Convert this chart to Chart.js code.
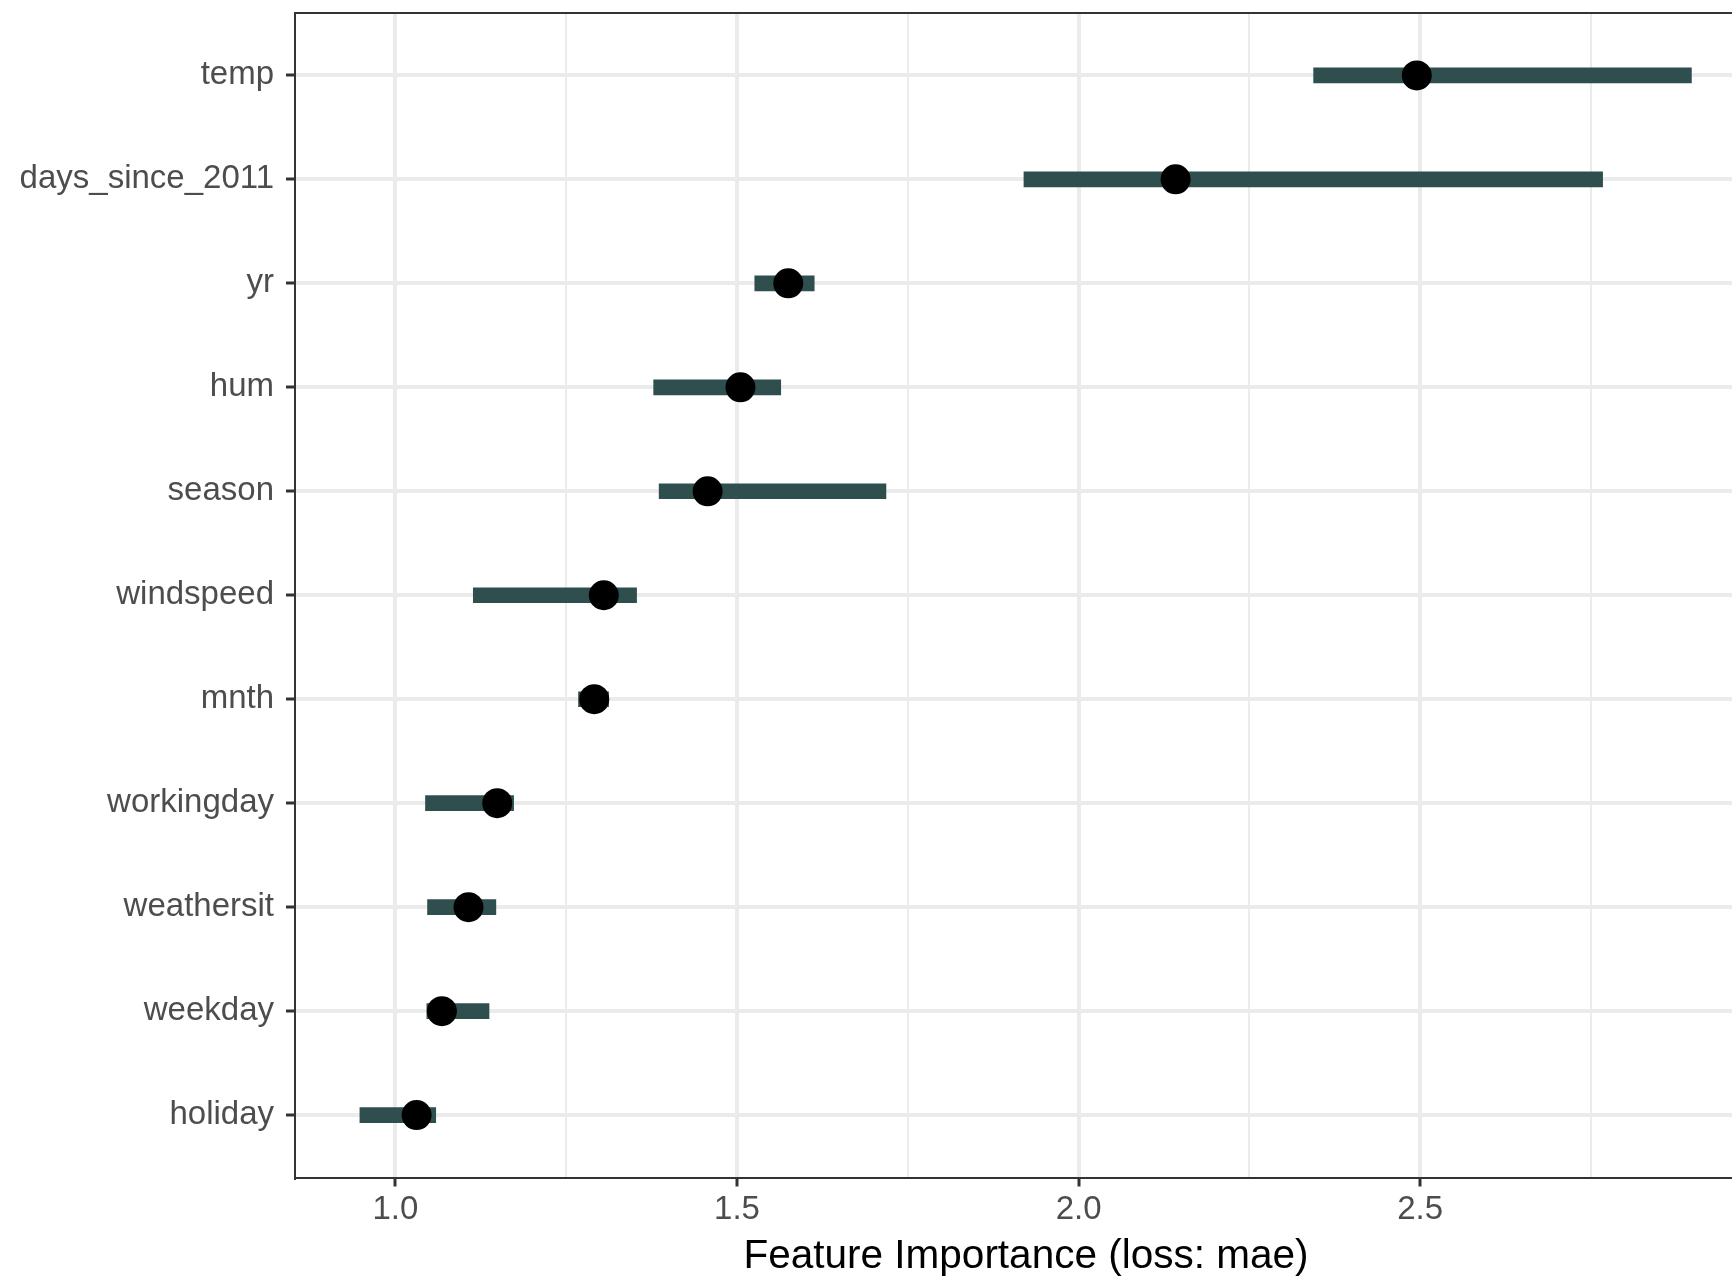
<!DOCTYPE html>
<html>
<head>
<meta charset="utf-8">
<script src="https://cdn.jsdelivr.net/npm/chart.js@4"></script>
<style>
  html, body { margin: 0; padding: 0; background: #fff; overflow: hidden; }
  #wrap { width: 1732px; height: 1276px; overflow: hidden; }
  canvas { display: block; }
</style>
</head>
<body>
<div id="wrap"><canvas id="chart" width="1757" height="1276"></canvas></div>
<script>
// features, top to bottom
const features = ['temp', 'days_since_2011', 'yr', 'hum', 'season', 'windspeed',
  'mnth', 'workingday', 'weathersit', 'weekday', 'holiday'];
// importance (median) and the 5%-95% range
const importance = [2.495, 2.142, 1.575, 1.505, 1.457, 1.305, 1.291, 1.149, 1.107, 1.068, 1.031];
const lower = [2.344, 1.920, 1.526, 1.378, 1.386, 1.114, 1.268, 1.044, 1.047, 1.046, 0.948];
const upper = [2.897, 2.767, 1.613, 1.564, 1.718, 1.353, 1.312, 1.173, 1.147, 1.137, 1.059];
const xTicks = [1.0, 1.25, 1.5, 1.75, 2.0, 2.25, 2.5, 2.75];

const isMajor = v => Math.abs(v * 2 - Math.round(v * 2)) < 1e-6;

// top and right edge of the panel (ggplot draws a full box)
const panelBox = {
  id: 'panelBox',
  afterDraw(chart) {
    const { ctx, chartArea } = chart;
    ctx.save();
    ctx.strokeStyle = '#333333';
    ctx.lineWidth = 2;
    ctx.beginPath();
    ctx.moveTo(chartArea.left, chartArea.top);
    ctx.lineTo(chartArea.right - 1, chartArea.top);
    ctx.lineTo(chartArea.right - 1, chartArea.bottom);
    ctx.stroke();
    ctx.restore();
  }
};

new Chart(document.getElementById('chart').getContext('2d'), {
  type: 'bar',
  data: {
    datasets: [
      {
        type: 'scatter',
        data: importance.map((v, i) => ({ x: v, y: i })),
        backgroundColor: '#000000',
        borderWidth: 0,
        pointRadius: 15,
        pointHoverRadius: 15,
        order: 0
      },
      {
        type: 'bar',
        data: lower.map((lo, i) => ({ x: [lo, upper[i]], y: i })),
        backgroundColor: '#2F4F4F',
        borderWidth: 0,
        borderSkipped: false,
        barThickness: 15,
        order: 1
      }
    ]
  },
  options: {
    indexAxis: 'y',
    responsive: false,
    animation: false,
    layout: { autoPadding: false, padding: { top: 13, right: 0, left: 0, bottom: 0 } },
    plugins: { legend: { display: false }, tooltip: { enabled: false } },
    scales: {
      x: {
        type: 'linear',
        position: 'bottom',
        min: 0.853,
        max: 2.993,
        offset: false,
        afterBuildTicks: scale => { scale.ticks = xTicks.map(v => ({ value: v })); },
        afterFit: scale => {
          scale.height = 98.5;
          scale.paddingLeft = 0;
          scale.paddingRight = 0;
        },
        ticks: {
          autoSkip: false,
          maxRotation: 0,
          padding: 4,
          color: '#4D4D4D',
          font: { family: 'Liberation Sans', size: 33 },
          callback: v => isMajor(v) ? v.toFixed(1) : ''
        },
        grid: {
          offset: false,
          color: '#EBEBEB',
          lineWidth: ctx => (ctx.tick && isMajor(ctx.tick.value)) ? 4 : 2,
          tickLength: 9,
          tickWidth: 3,
          tickColor: ctx => (ctx.tick && isMajor(ctx.tick.value)) ? '#333333' : 'rgba(0,0,0,0)'
        },
        border: { display: true, color: '#333333', width: 2 },
        title: {
          display: true,
          text: 'Feature Importance (loss: mae)',
          color: '#000000',
          font: { family: 'Liberation Sans', size: 40.5, lineHeight: 1 },
          padding: { top: 0, bottom: -1 }
        }
      },
      y: {
        type: 'linear',
        position: 'left',
        reverse: true,
        min: -0.6,
        max: 10.6,
        offset: false,
        afterBuildTicks: scale => { scale.ticks = features.map((_, i) => ({ value: i })); },
        afterFit: scale => {
          scale.width = 295;
          scale.paddingTop = 0;
          scale.paddingBottom = 0;
        },
        ticks: {
          autoSkip: false,
          padding: 12,
          color: '#4D4D4D',
          font: { family: 'Liberation Sans', size: 33 },
          callback: v => features[v]
        },
        grid: {
          offset: false,
          color: '#EBEBEB',
          lineWidth: 4,
          tickLength: 9,
          tickWidth: 3,
          tickColor: '#333333'
        },
        border: { display: true, color: '#333333', width: 2 }
      }
    }
  },
  plugins: [panelBox]
});
</script>
</body>
</html>
